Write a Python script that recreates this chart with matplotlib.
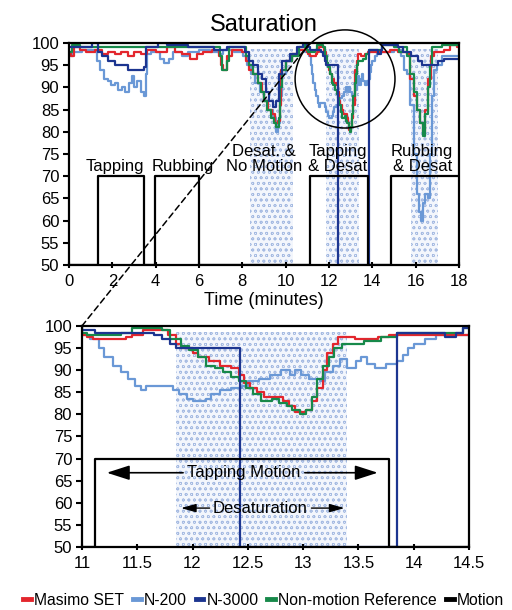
import matplotlib
matplotlib.use('Agg')
import matplotlib.pyplot as plt
from matplotlib.lines import Line2D
from matplotlib.patches import Ellipse, ConnectionPatch

plt.rcParams['font.family'] = ['Liberation Sans', 'DejaVu Sans']
plt.rcParams['hatch.linewidth'] = 0.5

# ---- data (minutes, % SpO2) ----
masimo_t = [0, 0.1, 0.25, 0.5, 0.8, 1.2, 1.5, 1.8, 2.1, 2.4, 2.7, 3.0, 3.3, 3.6, 4.0, 4.5, 4.9,
            5.2, 5.6, 5.9, 6.2, 6.6, 6.9, 7.0, 7.1, 7.3, 7.5, 8.0, 8.15, 8.3, 8.5, 8.7, 8.9, 9.0,
            9.2, 9.35, 9.5, 9.65, 9.75, 9.8, 10.0, 10.3, 10.6, 10.9, 11.0, 11.05, 11.1, 11.4,
            11.45, 11.55, 11.78, 11.85, 11.9, 12.0, 12.05, 12.15, 12.25, 12.35, 12.42, 12.47,
            12.52, 12.58, 12.65, 12.82, 12.87, 12.93, 13.03, 13.08, 13.13, 13.18, 13.22, 13.27,
            13.32, 13.47, 13.68, 13.78, 14.5, 14.8, 15.2, 15.6, 15.75, 15.9, 16.05, 16.2, 16.35,
            16.45, 16.55, 16.7, 16.85, 17.3, 17.6, 17.9, 18]
masimo_v = [98, 97, 99, 98.5, 98, 98.5, 97.5, 98, 97.5, 98, 97, 98, 97.5, 98.5, 98, 99, 98,
            97.5, 96.5, 97.5, 98, 98.5, 97, 95, 94, 97, 98.5, 98, 96, 94, 93, 91, 89, 87,
            85, 84, 82, 82.5, 86, 94, 96, 97.5, 98.5, 99, 98, 97.5, 97, 97.5,
            98, 99, 98, 96, 95, 94, 93, 92, 91, 90.5, 89, 87,
            86, 85, 84, 83, 82, 80.5, 81, 83, 86, 90, 94, 96,
            97.5, 97, 97.5, 98, 98, 98.5, 98, 97.5, 92, 88, 85, 82, 80,
            85, 92, 97, 98, 98.5, 99.5, 99, 99]

n200_t = [0, 0.2, 0.6, 1.2, 1.3, 1.45, 1.6, 1.8, 1.95, 2.1, 2.25, 2.45, 2.6, 2.75, 2.9, 3.0,
          3.15, 3.3, 3.45, 3.55, 3.6, 3.8, 4.2, 4.4, 4.6, 4.8, 5.2, 5.5, 6.0, 6.5, 6.9, 7.1,
          7.6, 8.05, 8.2, 8.4, 8.6, 8.8, 9.0, 9.2, 9.4, 9.55, 9.65, 9.75, 9.85, 10.0, 10.3,
          10.6, 10.9, 11.0, 11.07, 11.15, 11.2, 11.28, 11.35, 11.42, 11.48, 11.53, 11.58,
          11.75, 11.82, 11.88, 11.95, 12.0, 12.12, 12.17, 12.25, 12.35, 12.45, 12.5, 12.6,
          12.7, 12.8, 12.88, 12.93, 12.98, 13.05, 13.15, 13.2, 13.27, 13.33, 13.4, 13.48,
          13.52, 13.58, 13.65, 13.75, 13.85, 13.9, 13.95, 14.0, 14.1, 14.2, 14.5, 15.0, 15.3,
          15.45, 15.6, 15.75, 15.9, 16.05, 16.15, 16.25, 16.35, 16.45, 16.55, 16.65, 16.75,
          16.85, 17.0, 17.2, 18]
n200_v = [97, 98, 98.5, 98, 96, 94, 92, 91.5, 90.5, 91, 89.5, 90, 89, 91, 92.5, 90,
          91.5, 89, 88, 93, 97.5, 98, 96.5, 95.5, 96.5, 98, 97, 98, 98.5, 98, 97.5, 98.5,
          98, 97, 95, 93, 91, 89, 87, 85, 83, 80, 82, 88, 93, 96, 97.5,
          98.5, 98, 98, 97, 95, 93, 91, 89.5, 88, 86.5, 85.5, 86.5,
          86.5, 85.5, 84.5, 83.5, 83, 83.5, 84.5, 85.5, 86, 86.5, 87.5, 88,
          89, 90, 89, 90, 89, 88, 87.5, 89.5, 91, 92.5, 90.5, 92,
          93, 91.5, 90.5, 91.5, 92, 93.5, 95, 96, 97, 98, 98, 98.5, 97,
          94, 93, 86, 75, 66, 62, 60, 64, 66, 65, 75, 88,
          94, 95, 97, 97]

n3000_t = [0, 1.05, 1.35, 1.5, 1.8, 2.1, 2.7, 3.45, 3.55, 4.1, 4.5, 5.5, 6.7, 7.3, 8.1, 8.3,
           8.5, 8.7, 8.9, 9.1, 9.25, 9.4, 9.55, 9.7, 9.85, 10.2, 10.5, 10.8, 11.0, 11.12,
           11.65, 11.72, 11.8, 11.85, 12.43, 13.85, 14.28, 14.38, 14.45, 15.2, 15.4, 15.8,
           16.1, 16.3, 17.05, 17.3, 18]
n3000_v = [99, 100, 98, 97, 96, 95, 94, 94.5, 99, 100, 99.5, 99, 98.5, 99, 98, 96,
           95, 93, 92, 89, 87, 85.5, 87, 93, 96, 97.5, 99, 100, 99, 98.5,
           98, 97, 96, 95, 50, 98.5, 97.5, 98.5, 99.5, 99, 98, 97,
           96, 95, 96, 96.5, 96.5]

ref_t = [0, 0.15, 0.5, 6.9, 6.95, 7.05, 7.3, 7.4, 8.05, 8.15, 8.3, 8.5, 8.7, 8.85, 9.0, 9.15,
         9.3, 9.45, 9.55, 9.7, 9.75, 9.85, 10.0, 10.3, 10.6, 10.9, 11.0, 11.05, 11.35, 11.45,
         11.72, 11.8, 11.9, 11.97, 12.05, 12.12, 12.2, 12.28, 12.35, 12.42, 12.48, 12.55,
         12.62, 12.72, 12.78, 12.85, 12.9, 12.97, 13.03, 13.08, 13.13, 13.18, 13.23, 13.28,
         13.35, 13.55, 13.7, 13.85, 14.45, 15.0, 15.25, 15.4, 15.6, 15.75, 15.9, 16.05, 16.2,
         16.35, 16.45, 16.55, 16.65, 16.75, 17.2, 18]
ref_v = [98, 99.5, 99, 99, 97, 94, 96, 99, 99, 97, 95, 93, 91, 89, 87, 85,
         83, 82, 81, 83, 90, 94, 96, 97, 99, 100, 98.5, 98, 98.5, 99.5,
         99, 97, 95.5, 94.5, 93, 91, 90.5, 89.5, 88.5, 87.5, 86, 84.5,
         83, 83.5, 82.5, 82, 81, 80, 81, 84, 88, 91, 93, 95,
         96, 96.5, 97.5, 98.5, 99.5, 99, 98, 99, 97, 93, 89, 85, 82,
         79, 84, 90, 95, 99, 99.5, 99.5]

motion_t = [0, 1.35, 3.45, 3.95, 6.0, 11.12, 13.78, 14.85, 18]
motion_v = [50, 70, 50, 70, 50, 70, 50, 70, 70]

desat_spans = [(8.35, 10.35), (11.85, 13.4), (15.8, 17.05)]

top_labels = ['Tapping', 'Rubbing', 'Desat. &\nNo Motion', 'Tapping\n& Desat', 'Rubbing\n& Desat']
top_label_x = [2.1, 5.25, 9.0, 12.4, 16.3]

series = [
    ('Masimo SET', masimo_t, masimo_v, '#e3262d', 3),
    ('N-200', n200_t, n200_v, '#6a98d6', 2),
    ('N-3000', n3000_t, n3000_v, '#1c3590', 5),
    ('Non-motion Reference', ref_t, ref_v, '#17894a', 4),
    ('Motion', motion_t, motion_v, 'black', 6),
]

fig = plt.figure(figsize=(5.12, 6.10), dpi=100)
ax1 = fig.add_axes([0.1348, 0.5656, 0.7617, 0.3639])
ax2 = fig.add_axes([0.160, 0.1033, 0.756, 0.3623])


def draw(ax, spans):
    for a, b in spans:
        ax.axvspan(a, b, ymin=0, ymax=0.975, facecolor='#f3f6fc', edgecolor='#a6bbe2',
                   hatch='ooo', linewidth=0, zorder=1)
    for name, t, v, c, z in series:
        ax.plot(t, v, drawstyle='steps-post', color=c, lw=1.6, zorder=z)
    ax.set_ylim(50, 100)
    ax.set_yticks(range(50, 101, 5))
    for s in ax.spines.values():
        s.set_linewidth(1.6)
        s.set_zorder(7)
    ax.tick_params(axis='y', direction='out', length=4, width=1.5, labelsize=12, pad=3)
    ax.tick_params(axis='x', direction='inout', length=5, width=1.5, labelsize=12, pad=4)


draw(ax1, desat_spans)
ax1.set_xlim(0, 18)
ax1.set_xticks(range(0, 19, 2))
ax1.set_title('Saturation', fontsize=17, pad=9)
ax1.set_xlabel('Time (minutes)', fontsize=13, labelpad=2)
for lab, x in zip(top_labels, top_label_x):
    ax1.text(x, 70.4, lab, ha='center', va='bottom', fontsize=12, linespacing=1.05, zorder=8)

draw(ax2, [desat_spans[1]])
ax2.set_xlim(11, 14.5)
ax2.set_xticks([11, 11.5, 12, 12.5, 13, 13.5, 14, 14.5])
ax2.set_xticklabels(['11', '11.5', '12', '12.5', '13', '13.5', '14', '14.5'])

ax2.text(12.46, 66.8, 'Tapping Motion', ha='center', va='center', fontsize=12, zorder=8)
big = dict(arrowstyle='-|>,head_length=1.4,head_width=0.45', color='black', lw=1.2)
ax2.annotate('', xy=(11.2, 66.8), xytext=(11.94, 66.8), arrowprops=big, zorder=8)
ax2.annotate('', xy=(13.7, 66.8), xytext=(12.99, 66.8), arrowprops=big, zorder=8)
ax2.text(12.61, 58.8, 'Desaturation', ha='center', va='center', fontsize=12, zorder=8)
small = dict(arrowstyle='-|>,head_length=0.9,head_width=0.25', color='black', lw=1.0)
ax2.annotate('', xy=(11.87, 58.8), xytext=(12.18, 58.8), arrowprops=small, zorder=8)
ax2.annotate('', xy=(13.4, 58.8), xytext=(13.05, 58.8), arrowprops=small, zorder=8)

# zoom circle and connector
ax1.add_patch(Ellipse((12.74, 91.9), 4.61, 22.1, fill=False, edgecolor='black', lw=1.1,
                      clip_on=False, zorder=9))
con = ConnectionPatch(xyA=(11.12, 100), coordsA=ax1.transData, xyB=(11, 100),
                      coordsB=ax2.transData, linestyle=(0, (4, 2.5)), color='black', lw=1.1)
fig.add_artist(con)

handles = [Line2D([], [], color=c, lw=3.5) for _, _, _, c, _ in series]
fig.legend(handles, [s[0] for s in series], loc='center', bbox_to_anchor=(0.515, 0.016),
           ncol=5, frameon=False, fontsize=11.3, handlelength=0.5, handletextpad=0.2,
           columnspacing=0.55, borderpad=0)

fig.savefig('out.png', dpi=100)
